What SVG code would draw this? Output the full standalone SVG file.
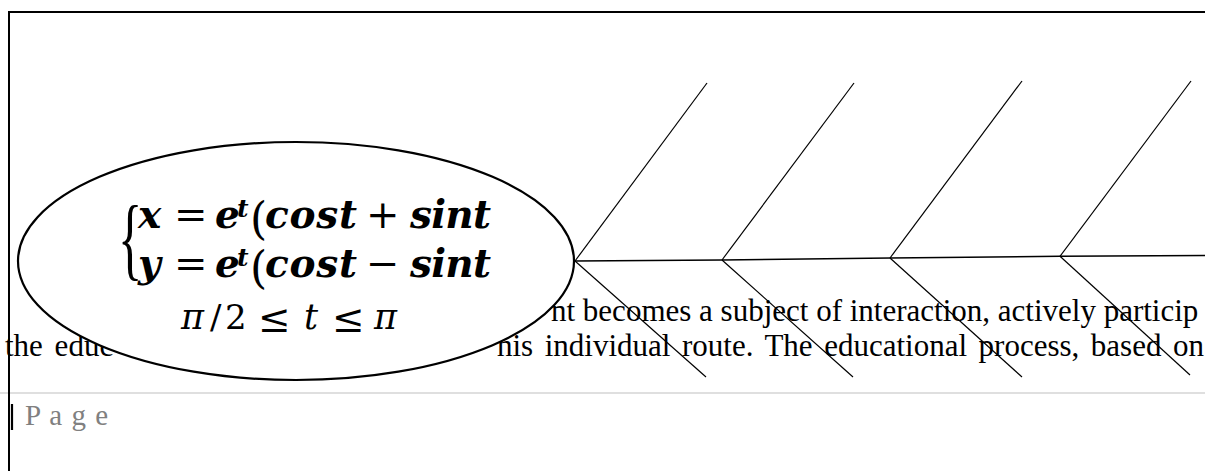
<svg xmlns="http://www.w3.org/2000/svg" width="1205" height="471" viewBox="0 0 1205 471">
<style>
.body{font-family:"Liberation Serif","Times New Roman",serif;font-size:31px;fill:#000}
.m{font-family:"DejaVu Serif",serif;font-weight:bold;font-style:italic;font-size:39px;fill:#000}
.sup{font-family:"DejaVu Serif",serif;font-weight:bold;font-style:italic;font-size:25px;fill:#000}
.op{font-family:"DejaVu Serif",serif;font-size:40px;fill:#000}
.par{font-family:"DejaVu Serif",serif;font-size:44px;fill:#000}
.r{font-family:"DejaVu Serif",serif;font-size:34px;fill:#000}
.le{font-family:"DejaVu Serif",serif;font-size:39px;fill:#000}
.ri{font-family:"DejaVu Serif",serif;font-style:italic;font-size:35px;fill:#000}
.rib{stroke:#000;stroke-width:1.2;fill:none}
</style>
<rect width="1205" height="471" fill="#fff"/>
<g id="footer">
<line x1="0" y1="393" x2="1205" y2="393" stroke="#d4d4d4" stroke-width="1.5"/>
<line x1="12" y1="404" x2="12" y2="430" stroke="#000" stroke-width="2.2"/>
<text x="25" y="425" font-family="Liberation Serif, serif" font-size="29" word-spacing="2" fill="#808080">P a g e</text>
</g>
<g id="frame"><path d="M9 471V12H1205" fill="none" stroke="#000" stroke-width="2"/></g>
<g id="body-text">
<text class="body" x="551" y="321">nt becomes a subject of interaction, actively particip</text>
<text class="body" x="5" y="356" style="word-spacing:4px">the educ</text>
<text class="body" x="497" y="356" style="word-spacing:3.8px">his individual route. The educational process, based on</text>
</g>
<g id="connectors">
<polyline class="rib" style="stroke-width:1.5" points="575,261 722,260 890,258 1060,256.3 1205,255.5"/>
<line class="rib" x1="575" y1="261" x2="707" y2="83"/>
<line class="rib" x1="722" y1="260" x2="854" y2="83"/>
<line class="rib" x1="890" y1="258" x2="1022" y2="81"/>
<line class="rib" x1="1060" y1="256.3" x2="1191" y2="81"/>
<line class="rib" x1="575" y1="261" x2="706" y2="377"/>
<line class="rib" x1="722" y1="260" x2="853" y2="377"/>
<line class="rib" x1="890" y1="258" x2="1022" y2="377"/>
<line class="rib" x1="1060" y1="256.3" x2="1190" y2="375"/>
</g>
<g id="formula-node">
<ellipse cx="296" cy="261" rx="278" ry="119" fill="#fff" stroke="#000" stroke-width="2.2"/>
<text font-family="Liberation Serif, serif" font-size="92" transform="translate(118,269) scale(0.55,1)">{</text>
<text class="m" x="138" y="228">x</text>
<text class="op" x="174" y="228">=</text>
<text class="m" x="215" y="228">e</text>
<text class="sup" x="237" y="217">t</text>
<text class="par" x="250" y="234">(</text>
<text class="m" x="265" y="228" textLength="92" lengthAdjust="spacing">cost</text>
<text class="op" x="366" y="228">+</text>
<text class="m" x="410" y="228" textLength="81" lengthAdjust="spacing">sint</text>
<text class="m" x="138" y="277">y</text>
<text class="op" x="174" y="277">=</text>
<text class="m" x="215" y="277">e</text>
<text class="sup" x="237" y="266">t</text>
<text class="par" x="250" y="283">(</text>
<text class="m" x="265" y="277" textLength="92" lengthAdjust="spacing">cost</text>
<text class="op" x="366" y="277">−</text>
<text class="m" x="410" y="277" textLength="81" lengthAdjust="spacing">sint</text>
<text class="ri" x="181" y="329">π</text>
<text class="r" x="210" y="329">/</text>
<text class="r" x="225" y="329">2</text>
<text class="le" x="258" y="332">≤</text>
<text class="ri" x="304" y="329">t</text>
<text class="le" x="332" y="332">≤</text>
<text class="ri" x="374" y="329">π</text>
</g>
</svg>
